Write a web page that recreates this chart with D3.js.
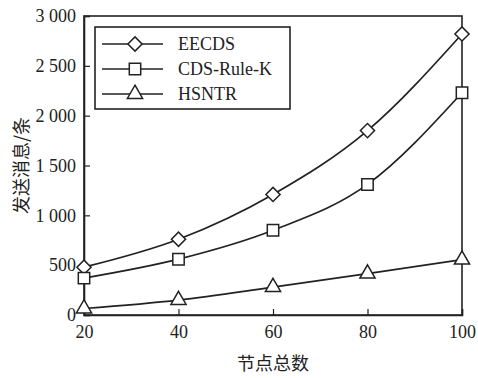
<!DOCTYPE html>
<html>
<head>
<meta charset="utf-8">
<script src="https://cdn.jsdelivr.net/npm/d3@7"></script>
<style>
  body { margin: 0; background: #fff; }
  text { font-family: "Liberation Serif", "Times New Roman", serif; fill: #222; }
  .cjk { font-family: "Noto Sans CJK SC", sans-serif; }
</style>
</head>
<body>
<svg id="chart" width="478" height="378"></svg>
<script>
// Data
const nodes = [20, 40, 60, 80, 100];
const eecds = [480, 760, 1210, 1850, 2820];
const cdsRuleK = [370, 560, 850, 1310, 2230];
const hsntr = [65, 150, 280, 415, 555];
const yTicks = [0, 500, 1000, 1500, 2000, 2500, 3000];

const series = [
  { name: "EECDS", values: eecds, symbol: d3.symbolSquare, size: 100, rot: 45 },
  { name: "CDS-Rule-K", values: cdsRuleK, symbol: d3.symbolSquare, size: 130, rot: 0 },
  { name: "HSNTR", values: hsntr, symbol: d3.symbolTriangle, size: 100, rot: 0 }
];

const svg = d3.select("#chart");
const margin = { left: 84, right: 16, top: 16, bottom: 63 };
const width = 478 - margin.left - margin.right;
const height = 378 - margin.top - margin.bottom;

const g = svg.append("g").attr("transform", `translate(${margin.left},${margin.top})`);

const x = d3.scaleLinear().domain([20, 100]).range([0, width]);
const y = d3.scaleLinear().domain([0, 3000]).range([height, 0]);

// frame
g.append("rect")
  .attr("width", width).attr("height", height)
  .attr("fill", "none").attr("stroke", "#222").attr("stroke-width", 1.6);

// axes with inward ticks
const fmt = d => d3.format(",")(d).replace(",", " ");
const yAxis = g.append("g")
  .call(d3.axisLeft(y).tickValues(yTicks).tickSize(-6).tickPadding(8).tickFormat(fmt));
const xAxis = g.append("g").attr("transform", `translate(0,${height})`)
  .call(d3.axisBottom(x).tickValues(nodes).tickSize(-6).tickPadding(10));
[yAxis, xAxis].forEach(a => {
  a.attr("font-family", null);
  a.select(".domain").attr("stroke", "#222").attr("stroke-width", 1.6);
  a.selectAll(".tick line").attr("stroke", "#222").attr("stroke-width", 1.2);
  a.selectAll("text").attr("font-size", 18).attr("fill", "#222");
});

// lines
const line = d3.line()
  .x((d, i) => x(nodes[i]))
  .y(d => y(d))
  .curve(d3.curveMonotoneX);

series.forEach(s => {
  g.append("path").datum(s.values)
    .attr("d", line)
    .attr("fill", "none").attr("stroke", "#222").attr("stroke-width", 1.7);
  g.selectAll(null).data(s.values).enter().append("path")
    .attr("d", d3.symbol().type(s.symbol).size(s.size))
    .attr("transform", (d, i) => `translate(${x(nodes[i])},${y(d)}) rotate(${s.rot})`)
    .attr("fill", "#fff").attr("stroke", "#222").attr("stroke-width", 1.5);
});

// legend
const leg = g.append("g").attr("transform", "translate(11,11)");
leg.append("rect").attr("width", 195).attr("height", 82)
  .attr("fill", "#fff").attr("stroke", "#222").attr("stroke-width", 1.6);
series.forEach((s, i) => {
  const yy = 17 + i * 25;
  leg.append("line").attr("x1", 7).attr("x2", 68).attr("y1", yy).attr("y2", yy)
    .attr("stroke", "#222").attr("stroke-width", 1.7);
  leg.append("path")
    .attr("d", d3.symbol().type(s.symbol).size(s.size))
    .attr("transform", `translate(40,${yy}) rotate(${s.rot})`)
    .attr("fill", "#fff").attr("stroke", "#222").attr("stroke-width", 1.5);
  leg.append("text").attr("x", 83).attr("y", yy).attr("dy", "0.35em")
    .attr("font-size", 18).text(s.name);
});

// axis titles
svg.append("text").attr("class", "cjk")
  .attr("transform", `translate(22,${margin.top + height / 2}) rotate(-90)`)
  .attr("text-anchor", "middle").attr("dy", "0.35em")
  .attr("font-size", 18).text("发送消息/条");
svg.append("text").attr("class", "cjk")
  .attr("x", margin.left + width / 2).attr("y", 370)
  .attr("text-anchor", "middle")
  .attr("font-size", 18).text("节点总数");
</script>
</body>
</html>
